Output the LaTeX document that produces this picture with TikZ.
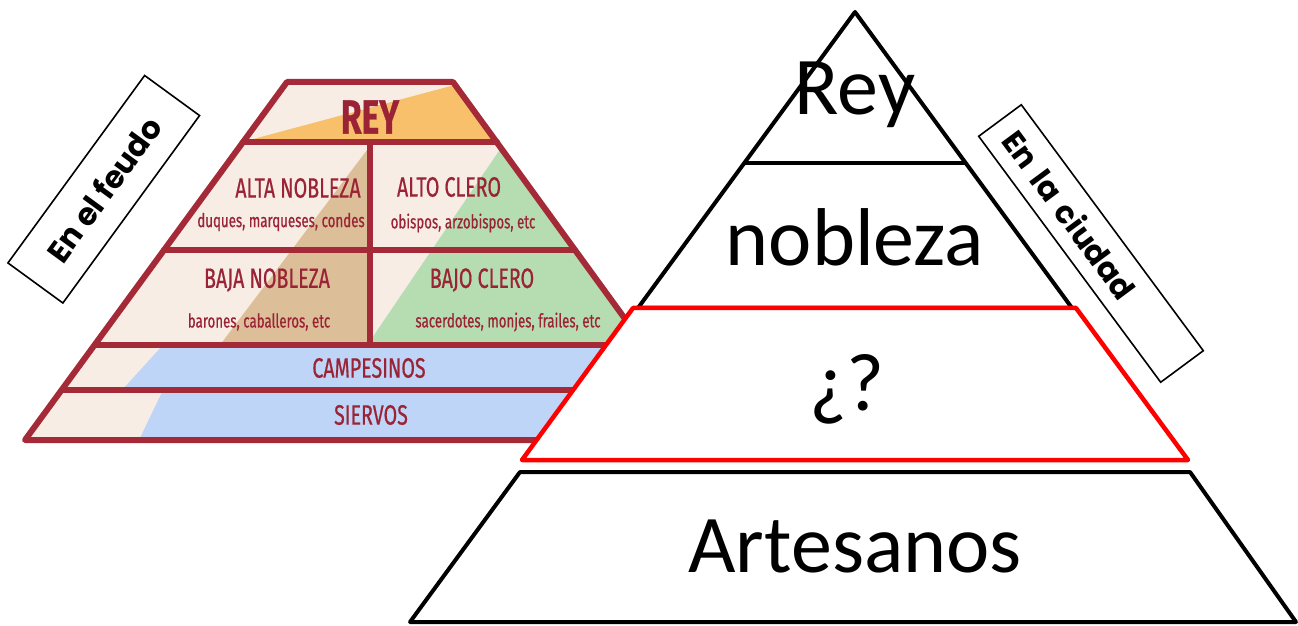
\documentclass[tikz,border=0pt]{standalone}
\usepackage{fontspec}
\setmainfont{Carlito}
\newfontfamily\boxfont{Poppins}
\newfontfamily\handfont[FakeStretch=0.7, FakeBold=0.6]{Fira Sans}
\usepackage{tikz}
\usetikzlibrary{calc}
\definecolor{feudred}{HTML}{A52A38}
\definecolor{feudtext}{HTML}{9A2436}
\definecolor{cream}{HTML}{F8EDE4}
\definecolor{reyorange}{HTML}{F9C06C}
\definecolor{nobletan}{HTML}{DCBF98}
\definecolor{clergreen}{HTML}{B6DCB1}
\definecolor{serfblue}{HTML}{BED5F8}
\tikzset{feudline/.style={draw=feudred, line width=3pt, line join=round, line cap=round}}
\tikzset{handbig/.style={text=feudtext, inner sep=0pt, font=\handfont\bfseries\fontsize{24}{24}\selectfont}}
\tikzset{handcap/.style={text=feudtext, inner sep=0pt, font=\handfont\fontsize{14}{14}\selectfont}}
\tikzset{handsmall/.style={text=feudtext, inner sep=0pt, font=\handfont\fontsize{9.5}{9.5}\selectfont}}
\tikzset{citytext/.style={anchor=base, inner sep=0pt, font=\fontsize{41}{41}\selectfont}}
\tikzset{levelline/.style={draw=black, line width=2pt, line join=round}}
\tikzset{labelbox/.style={draw=black, line width=0.8pt, fill=white,
    font=\boxfont\bfseries\fontsize{15.5}{15.5}\selectfont}}

\begin{document}
\begin{tikzpicture}[x=0.5pt, y=-0.5pt]
\useasboundingbox (0,0) rectangle (1298,626);
\begin{scope}
    %fills
    \clip (287,82) -- (453,82) -- (713,440) -- (25,440) -- cycle;
    \fill[cream] (0,60) rectangle (720,440);
    \fill[reyorange] (240,142.6) -- (520,67.4) -- (520,142) -- cycle;
    \fill[nobletan] (370,146) -- (220,345) -- (370,345) -- cycle;
    \fill[clergreen] (505,142) -- (370,341) -- (370,345) -- (720,345) -- (720,142) -- cycle;
    \fill[serfblue] (163,345) -- (122,390) -- (720,390) -- (720,345) -- cycle;
    \fill[serfblue] (163,390) -- (139,440) -- (720,440) -- (720,390) -- cycle;
\end{scope}
    %lines
    \draw[feudline] (287,82) -- (453,82) -- (713,440) -- (25,440) -- cycle;
    \draw[feudline] (243,142) -- (497,142);
    \draw[feudline] (164,250) -- (575,250);
    \draw[feudline] (95,345) -- (644,345);
    \draw[feudline] (62,390) -- (677,390);
    \draw[feudline] (370,142) -- (370,345);
    %labels
    \node[handbig] (rey) at (370,117) {REY};
    \node[handcap] (altanob) at (298,188) {ALTA NOBLEZA};
    \node[handsmall] (duques) at (281,222) {duques, marqueses, condes};
    \node[handcap] (altoclero) at (449,187) {ALTO CLERO};
    \node[handsmall] (obispos) at (463,223) {obispos, arzobispos, etc};
    \node[handcap] (bajanob) at (267,280) {BAJA NOBLEZA};
    \node[handsmall] (barones) at (259,322) {barones, caballeros, etc};
    \node[handcap] (bajoclero) at (482,280) {BAJO CLERO};
    \node[handsmall] (sacerdotes) at (508,322) {sacerdotes, monjes, frailes, etc};
    \node[handcap] (campesinos) at (369,368) {CAMPESINOS};
    \node[handcap] (siervos) at (371,415) {SIERVOS};
    \node[labelbox, rotate=53.9, minimum width=116pt, minimum height=34pt] (feudo) at (103.75,189.25) {En el feudo};

    %city pyramid
    \coordinate (apex) at (855,12);
    \draw[levelline, fill=white] (apex) -- (1072,308) -- (638,308) -- cycle;
    \draw[levelline] (744,163) -- (966,163);
    \draw[draw=red, line width=2.25pt, line join=round, fill=white]
        (633,308) -- (1076,308) -- (1188,460) -- (522,460) -- cycle;
    \draw[levelline, fill=white] (520,472) -- (1190,472) -- (1296,622) -- (410,622) -- cycle;
    \node[citytext] (reyc) at (855,115) {Rey};
    \node[citytext] (nobleza) at (855,265) {nobleza};
    \node[citytext] (duda) at (847,410) {¿?};
    \node[citytext] (artesanos) at (855,572) {Artesanos};
    \node[labelbox, rotate=-53.5, minimum height=26.5pt, inner xsep=8.5pt,
        text width=136pt, align=left] (ciudad) at (1091,243.5) {En la ciudad};
\end{tikzpicture}
\end{document}
